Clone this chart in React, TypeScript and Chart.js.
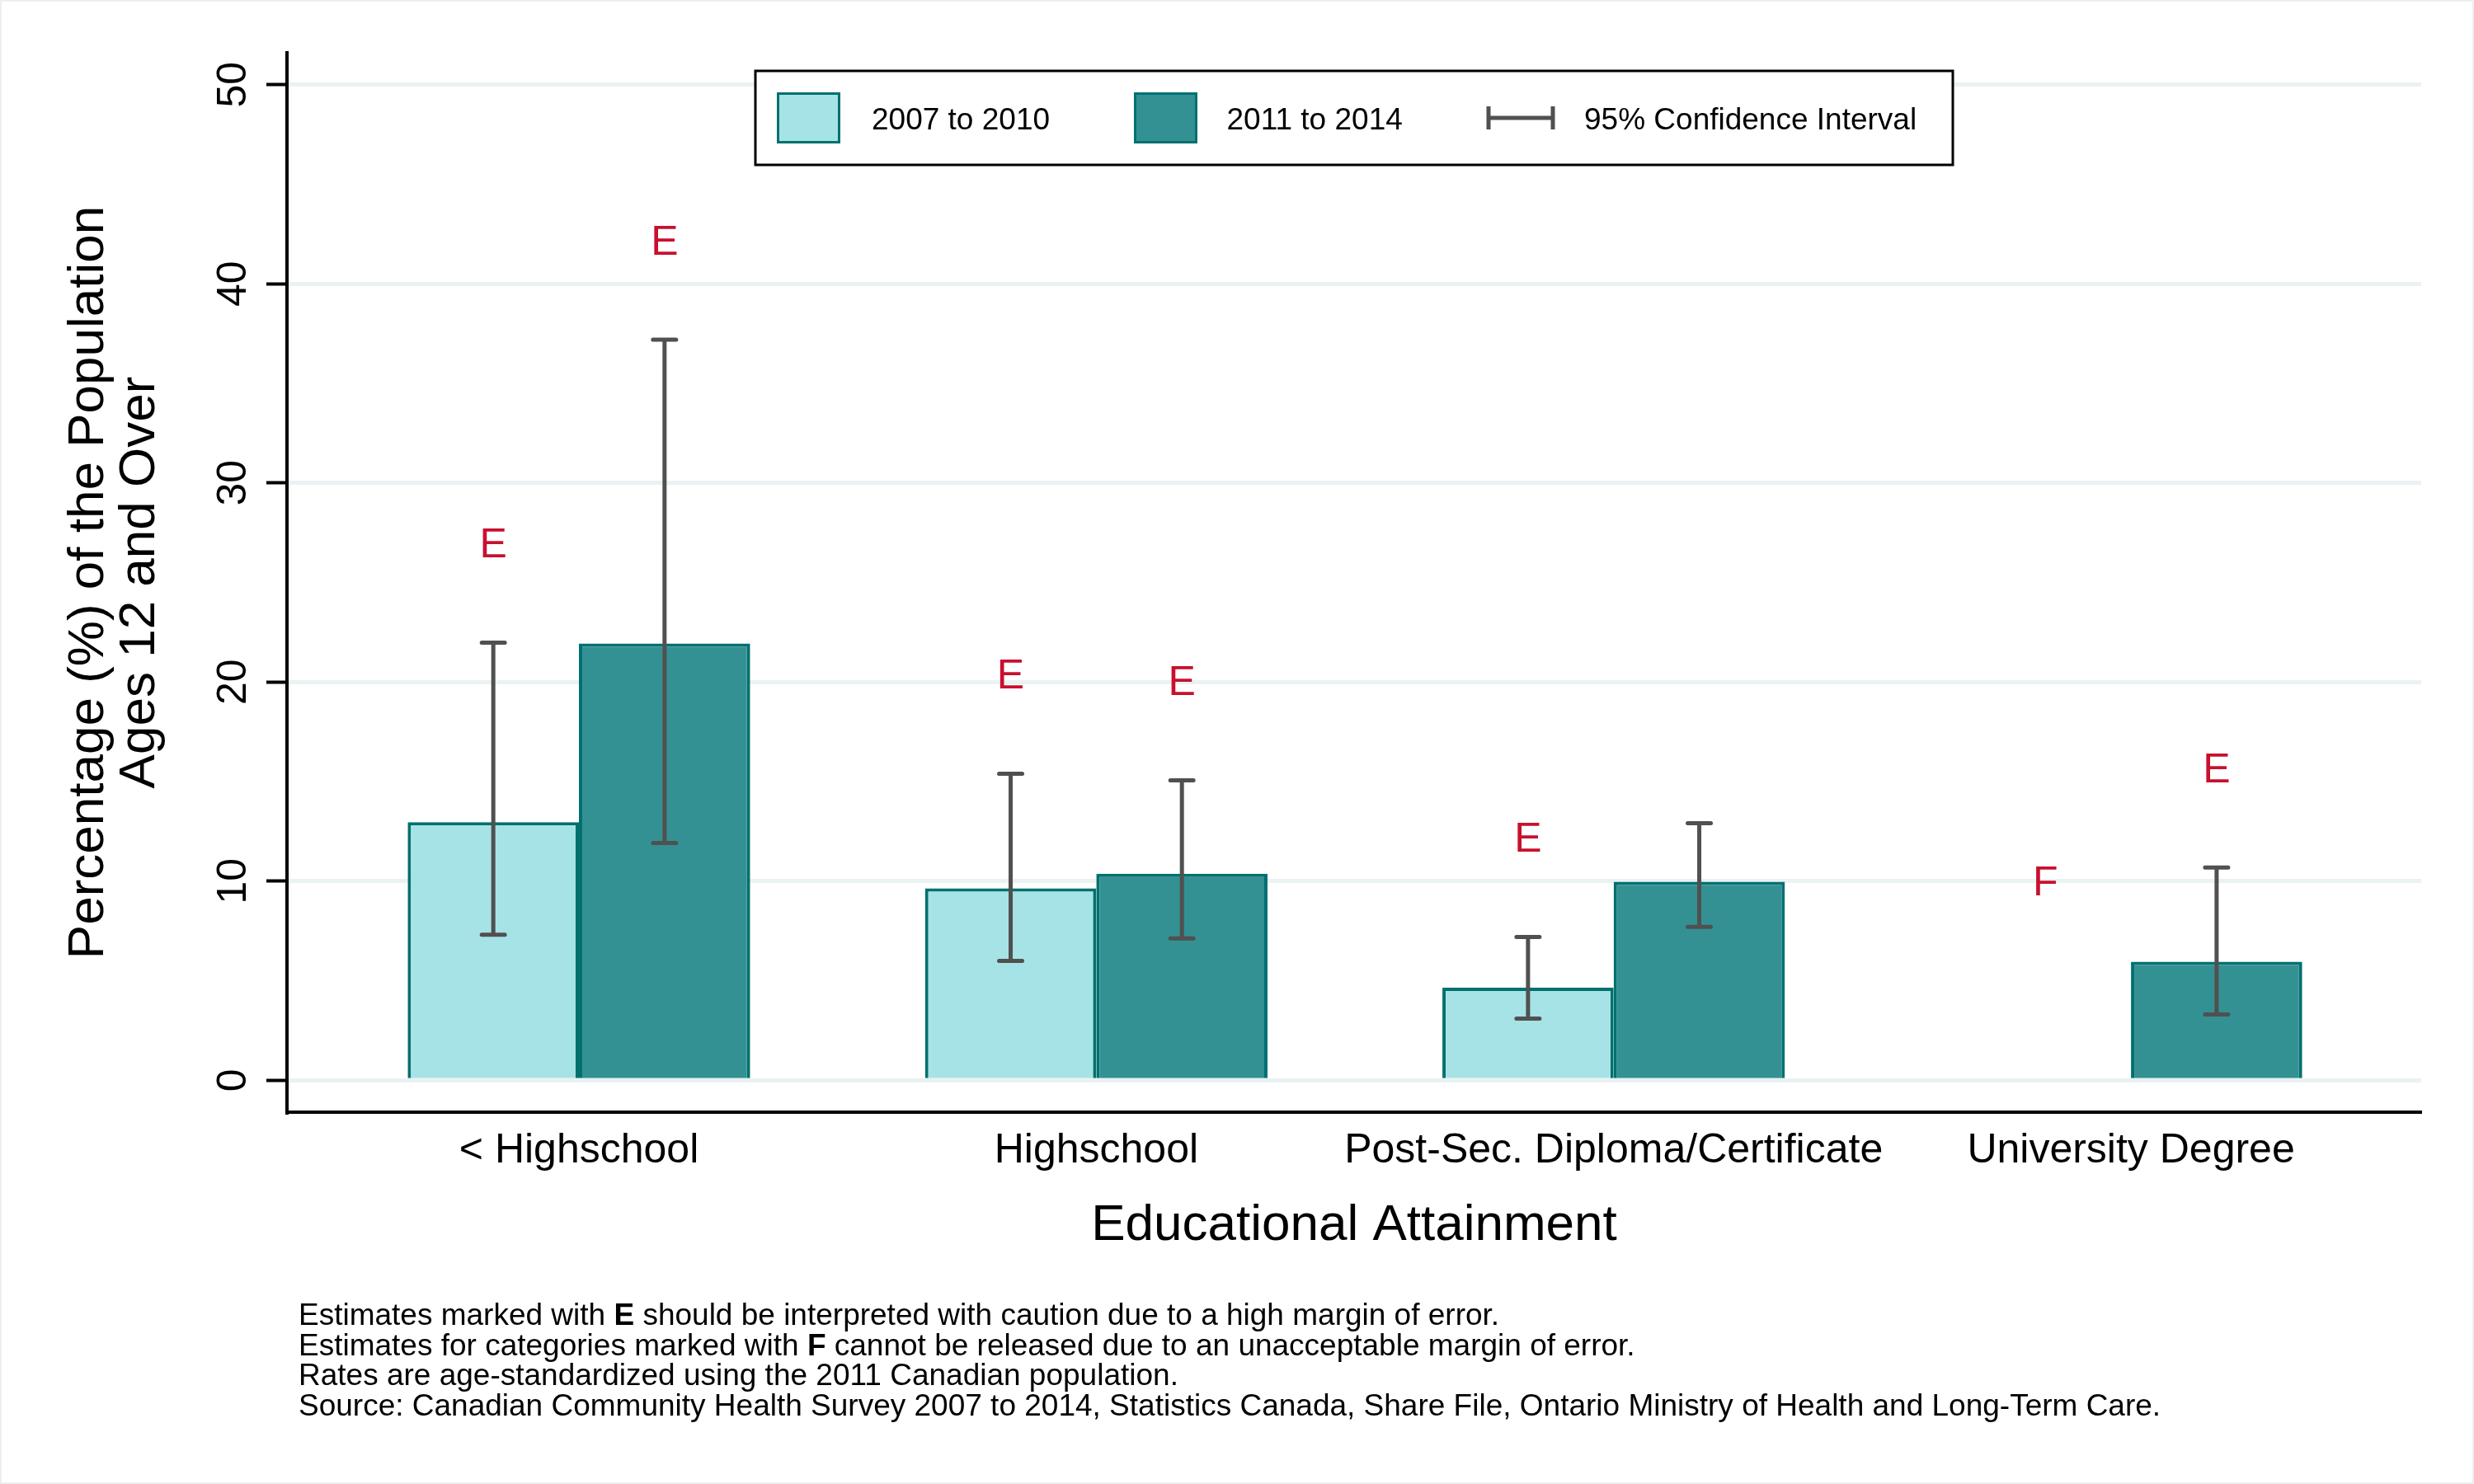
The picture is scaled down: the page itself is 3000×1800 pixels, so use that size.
import React, { useEffect, useRef } from 'react';
import { Chart, registerables } from 'chart.js';

Chart.register(...registerables);

const FONT = '"Liberation Sans", Arial, Helvetica, sans-serif';

// ---- data ----
const categories = ['< Highschool', 'Highschool', 'Post-Sec. Diploma/Certificate', 'University Degree'];
const seriesLabels = ['2007 to 2010', '2011 to 2014'];
const ciLabel = '95% Confidence Interval';

const values2007: (number | null)[] = [12.96, 9.64, 4.65, null];
const lower2007: (number | null)[] = [7.31, 6.0, 3.1, null];
const upper2007: (number | null)[] = [21.98, 15.4, 7.2, null];
const flags2007 = ['E', 'E', 'E', 'F'];

const values2011: (number | null)[] = [21.94, 10.38, 9.97, 5.96];
const lower2011: (number | null)[] = [11.92, 7.13, 7.7, 3.31];
const upper2011: (number | null)[] = [37.19, 15.06, 12.91, 10.69];
const flags2011 = ['E', 'E', '', 'E'];

const fLabelValue = 9.85; // where the "F" (suppressed) marker sits
const flagOffset = 4.85; // "E" marker sits this far above the upper CI

const yTicks = [0, 10, 20, 30, 40, 50];
const yTitle = ['Percentage (%) of the Population', 'Ages 12 and Over'];
const xTitle = 'Educational Attainment';

const footnotes: { text: string; bold?: boolean }[][] = [
  [
    { text: 'Estimates marked with ' },
    { text: 'E', bold: true },
    { text: ' should be interpreted with caution due to a high margin of error.' },
  ],
  [
    { text: 'Estimates for categories marked with ' },
    { text: 'F', bold: true },
    { text: ' cannot be released due to an unacceptable margin of error.' },
  ],
  [{ text: 'Rates are age-standardized using the 2011 Canadian population.' }],
  [
    {
      text:
        'Source: Canadian Community Health Survey 2007 to 2014, Statistics Canada, Share File, Ontario Ministry of Health and Long-Term Care.',
    },
  ],
];

// ---- styles ----
const LIGHT = '#A6E3E6';
const DARK = '#339193';
const BORDER = '#00706F';
const ERR = '#505050';
const FLAG = '#C8102E';
const GRID = '#EAF2F3';

const errorBarPlugin = {
  id: 'errorBars',
  afterDatasetsDraw(chart: any) {
    const ctx = chart.ctx;
    const yScale = chart.scales.y;
    const sets = [
      { lo: lower2007, hi: upper2007, flags: flags2007 },
      { lo: lower2011, hi: upper2011, flags: flags2011 },
    ];
    sets.forEach((s, di) => {
      const meta = chart.getDatasetMeta(di);
      meta.data.forEach((bar: any, i: number) => {
        const x = bar.x;
        const lo = s.lo[i];
        const hi = s.hi[i];
        if (lo != null && hi != null) {
          const yl = yScale.getPixelForValue(lo);
          const yh = yScale.getPixelForValue(hi);
          ctx.save();
          ctx.strokeStyle = ERR;
          ctx.lineWidth = 5;
          ctx.lineCap = 'butt';
          ctx.beginPath();
          ctx.moveTo(x, yl);
          ctx.lineTo(x, yh);
          ctx.stroke();
          ctx.lineCap = 'round';
          ctx.beginPath();
          ctx.moveTo(x - 14, yl);
          ctx.lineTo(x + 14, yl);
          ctx.moveTo(x - 14, yh);
          ctx.lineTo(x + 14, yh);
          ctx.stroke();
          ctx.restore();
        }
        const flag = s.flags[i];
        if (flag) {
          const v = flag === 'F' ? fLabelValue : (hi as number) + flagOffset;
          ctx.save();
          ctx.fillStyle = FLAG;
          ctx.font = `50px ${FONT}`;
          ctx.textAlign = 'center';
          ctx.textBaseline = 'middle';
          ctx.fillText(flag, x, yScale.getPixelForValue(v));
          ctx.restore();
        }
      });
    });
  },
};

const legendPlugin = {
  id: 'customLegend',
  afterDraw(chart: any) {
    const ctx = chart.ctx;
    const ca = chart.chartArea;
    const boxW = 1452;
    const boxH = 114;
    const left = (ca.left + ca.right) / 2 - boxW / 2;
    const top = 86;
    ctx.save();
    ctx.fillStyle = '#fff';
    ctx.fillRect(left, top, boxW, boxH);
    ctx.strokeStyle = '#000';
    ctx.lineWidth = 3;
    ctx.strokeRect(left, top, boxW, boxH);

    const cy = top + 57;
    const sw = (x: number, fill: string) => {
      ctx.fillStyle = fill;
      ctx.fillRect(left + x, cy - 31, 77, 62);
      ctx.strokeStyle = BORDER;
      ctx.lineWidth = 3;
      ctx.strokeRect(left + x + 1.5, cy - 29.5, 74, 59);
    };
    sw(26, LIGHT);
    sw(459, DARK);

    ctx.strokeStyle = ERR;
    ctx.lineWidth = 5;
    ctx.lineCap = 'butt';
    ctx.beginPath();
    ctx.moveTo(left + 889, cy);
    ctx.lineTo(left + 967, cy);
    ctx.moveTo(left + 889, cy - 14);
    ctx.lineTo(left + 889, cy + 14);
    ctx.moveTo(left + 967, cy - 14);
    ctx.lineTo(left + 967, cy + 14);
    ctx.stroke();

    ctx.fillStyle = '#000';
    ctx.font = `37px ${FONT}`;
    ctx.textAlign = 'left';
    ctx.textBaseline = 'alphabetic';
    const base = cy + 14;
    ctx.fillText(chart.data.datasets[0].label, left + 141, base);
    ctx.fillText(chart.data.datasets[1].label, left + 571.5, base);
    ctx.fillText(ciLabel, left + 1005, base);
    ctx.restore();
  },
};

const footnotePlugin = {
  id: 'footnotes',
  afterDraw(chart: any) {
    const ctx = chart.ctx;
    ctx.save();
    ctx.fillStyle = '#000';
    ctx.textAlign = 'left';
    ctx.textBaseline = 'alphabetic';
    footnotes.forEach((line, li) => {
      let x = 362;
      const y = 1607 + li * 36.7;
      line.forEach((seg) => {
        ctx.font = `${seg.bold ? 'bold ' : ''}37px ${FONT}`;
        ctx.fillText(seg.text, x, y);
        x += ctx.measureText(seg.text).width;
      });
    });
    ctx.strokeStyle = '#eeeeee';
    ctx.lineWidth = 2;
    ctx.strokeRect(1, 1, chart.width - 2, chart.height - 2);
    ctx.restore();
  },
};

export default function App() {
  const ref = useRef<HTMLCanvasElement>(null);

  useEffect(() => {
    const canvas = ref.current;
    if (!canvas) return;
    const chart = new Chart(canvas, {
      type: 'bar',
      data: {
        datasets: [
          {
            label: seriesLabels[0],
            data: values2007.map((v, i) => ({ x: i, y: v })) as any,
            backgroundColor: LIGHT,
            borderColor: BORDER,
            borderWidth: 4,
            categoryPercentage: 0.662,
            barPercentage: 1,
          },
          {
            label: seriesLabels[1],
            data: values2011.map((v, i) => ({ x: i, y: v })) as any,
            backgroundColor: DARK,
            borderColor: BORDER,
            borderWidth: 4,
            categoryPercentage: 0.662,
            barPercentage: 1,
          },
        ],
      },
      options: {
        responsive: false,
        animation: false,
        devicePixelRatio: 1,
        layout: { padding: { left: 0, top: 64, right: 64, bottom: 278 } },
        plugins: {
          legend: { display: false },
          tooltip: { enabled: false },
          title: { display: false },
        },
        scales: {
          x: {
            type: 'linear',
            min: -0.5643,
            max: 3.561,
            offset: false,
            afterBuildTicks: (s: any) => {
              s.ticks = categories.map((_, i) => ({ value: i }));
            },
            afterFit: (s: any) => {
              s.height = 173;
            },
            grid: { display: false, drawTicks: false, offset: false },
            border: { display: true, color: '#000', width: 4 },
            ticks: {
              autoSkip: false,
              minRotation: 0,
              maxRotation: 0,
              padding: 17.5,
              color: '#000',
              font: { family: FONT, size: 50 },
              callback: (v: any) => categories[Math.round(Number(v))] ?? '',
            },
            title: {
              display: true,
              text: xTitle,
              color: '#000',
              font: { family: FONT, size: 62, lineHeight: 1 },
              padding: { top: 0, bottom: 4.5 },
            },
          },
          y: {
            type: 'linear',
            min: -1.6,
            max: 51.6,
            afterBuildTicks: (s: any) => {
              s.ticks = yTicks.map((v) => ({ value: v }));
            },
            afterFit: (s: any) => {
              s.width = 348;
            },
            grid: {
              color: GRID,
              lineWidth: 5,
              drawTicks: true,
              tickLength: 25,
              tickColor: '#000',
              tickWidth: 4,
            },
            border: { display: true, color: '#000', width: 4 },
            ticks: {
              minRotation: 90,
              maxRotation: 90,
              crossAlign: 'center',
              padding: 10.5,
              color: '#000',
              font: { family: FONT, size: 50 },
              callback: (v: any) => String(v),
            },
            title: {
              display: true,
              text: yTitle,
              color: '#000',
              font: { family: FONT, size: 62, lineHeight: 1 },
              padding: { top: 76.5, bottom: 0 },
            },
          },
        },
      } as any,
      plugins: [errorBarPlugin, legendPlugin, footnotePlugin],
    });
    return () => chart.destroy();
  }, []);

  return (
    <div style={{ position: 'absolute', left: 0, top: 0, width: 3000, height: 1800, background: '#fff' }}>
      <canvas ref={ref} width={3000} height={1800} style={{ width: 3000, height: 1800, display: 'block' }} />
    </div>
  );
}
